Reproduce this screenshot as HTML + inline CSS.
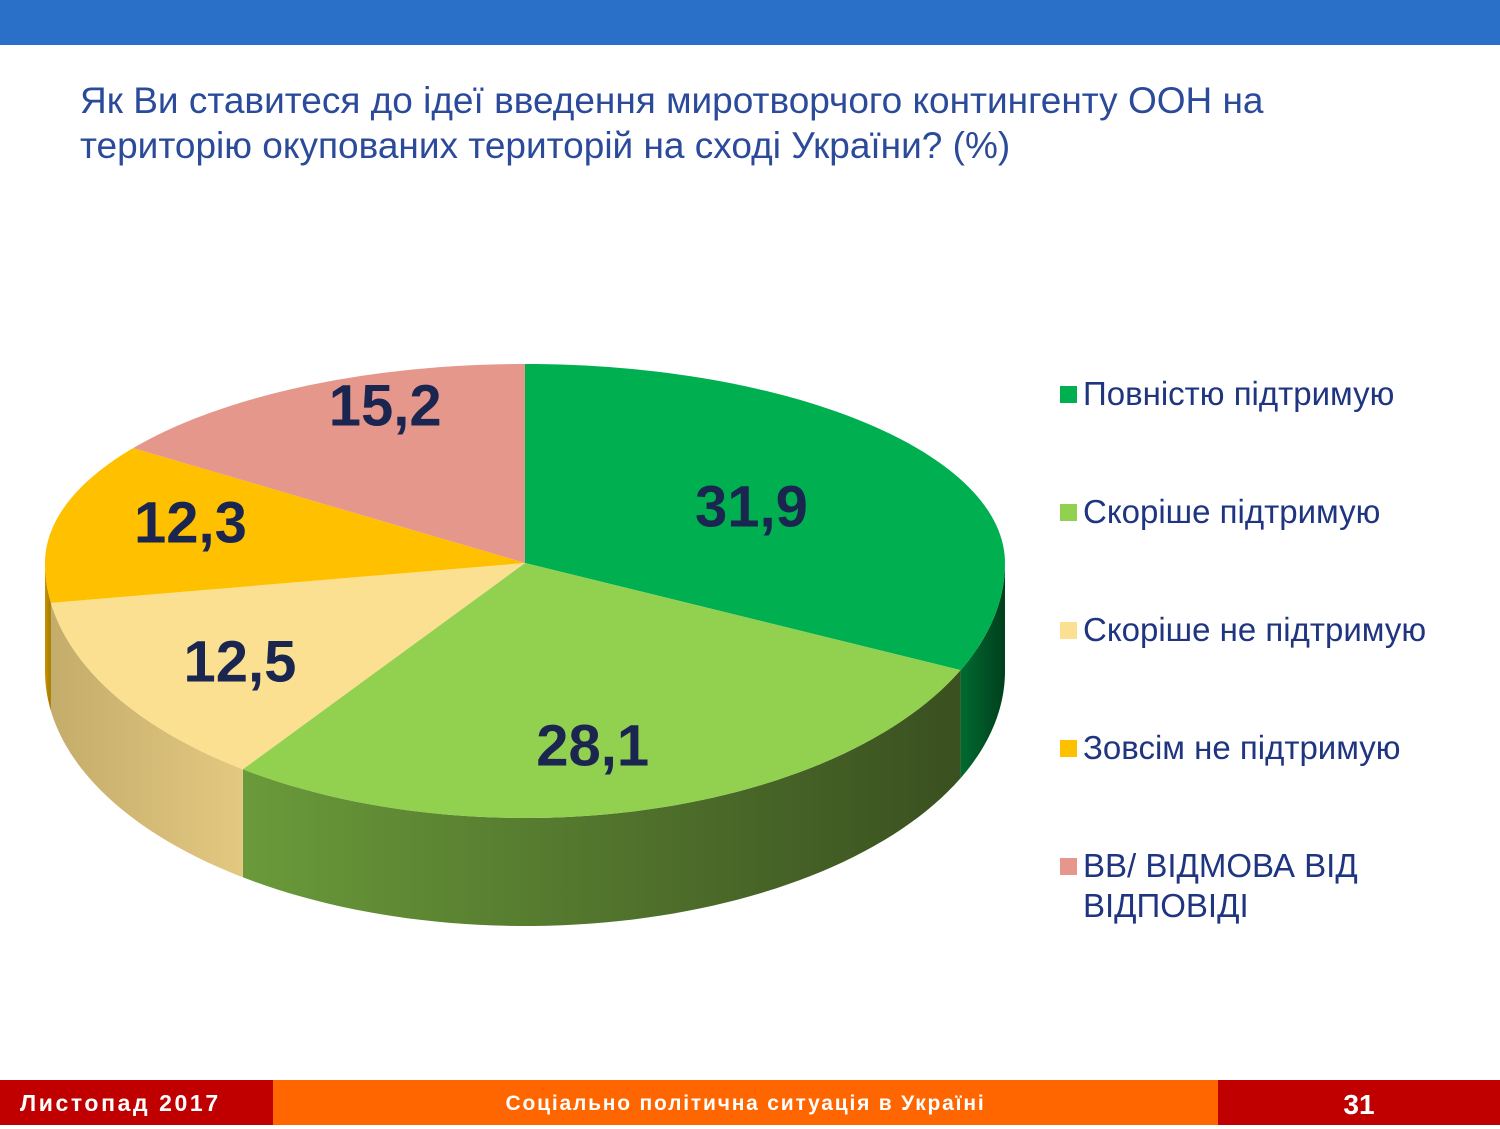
<!DOCTYPE html>
<html><head><meta charset="utf-8"><style>
body{margin:0;width:1500px;height:1125px;position:relative;background:#fff;font-family:"Liberation Sans",sans-serif;overflow:hidden}
.abs{position:absolute}
.leg{position:absolute;left:1060px;font-size:33px;color:#1f3580;line-height:40px}
.leg span{display:inline-block;width:17px;height:17px;margin-right:6px;vertical-align:2px}
</style></head><body>
<div class="abs" style="left:0;top:0;width:1500px;height:45px;background:#2a6fc8"></div>
<div class="abs" style="left:80px;top:78px;font-size:37px;line-height:45px;color:#2b4a9a;white-space:nowrap">Як Ви ставитеся до ідеї введення миротворчого контингенту ООН на<br>територію окупованих територій на сході України? (%)</div>
<svg id="pie" class="abs" style="left:0;top:0" width="1500" height="1080"></svg>
<div class="leg" style="top:374px"><span style="background:#00b050"></span>Повністю підтримую</div>
<div class="leg" style="top:492px"><span style="background:#92d050"></span>Скоріше підтримую</div>
<div class="leg" style="top:610px"><span style="background:#fae090"></span>Скоріше не підтримую</div>
<div class="leg" style="top:728px"><span style="background:#ffc000"></span>Зовсім не підтримую</div>
<div class="leg" style="top:846px"><span style="background:#e6978c"></span>ВВ/ ВІДМОВА ВІД<br><span style="background:none;width:17px"></span>ВІДПОВІДІ</div>
<div class="abs" style="left:0;top:1080px;width:273px;height:45px;background:#c00000"></div>
<div class="abs" style="left:20px;top:1080px;color:#fff;font-weight:bold;font-size:23px;letter-spacing:2.6px;line-height:47px">Листопад 2017</div>
<div class="abs" style="left:273px;top:1080px;width:945px;height:45px;background:#ff6600;color:#fff;font-weight:bold;font-size:21px;letter-spacing:1.8px;line-height:47px;text-align:center">Соціально політична ситуація в Україні</div>
<div class="abs" style="left:1218px;top:1080px;width:282px;height:45px;background:#c00000;color:#fff;font-weight:bold;font-size:28px;line-height:49px;text-align:center">31</div>
<script>
const categories=["Повністю підтримую","Скоріше підтримую","Скоріше не підтримую","Зовсім не підтримую","ВВ/ ВІДМОВА ВІД ВІДПОВІДІ"];
const values=[31.9,28.1,12.5,12.3,15.2];
const labels=["31,9","28,1","12,5","12,3","15,2"];
const colors=["#00b050","#92d050","#fae090","#ffc000","#e6978c"];
const sideColors=[["#006b30","#003f1c"],["#6a9a3a","#3a5020"],["#e3c880","#c4ac6a"],["#c89500","#a07800"],["#b07068","#905850"]];
const svg=document.getElementById('pie');const NS="http://www.w3.org/2000/svg";
const cx=525,cy=563,rx=480,ryT=199,ryB=255,depth=108;
function pt(a,dy){const s=Math.sin(a),c=Math.cos(a);const ry=c>0?ryT:ryB;return [cx+rx*s,cy-ry*c+(dy||0)];}
const total=values.reduce((a,b)=>a+b,0);
let defs=document.createElementNS(NS,'defs');svg.appendChild(defs);
let start=0;const slices=[];
values.forEach((v,i)=>{const a0=start/total*2*Math.PI,a1=(start+v)/total*2*Math.PI;slices.push([a0,a1]);start+=v;});
slices.forEach(([a0,a1],i)=>{
  const s0=Math.max(a0,Math.PI/2),s1=Math.min(a1,3*Math.PI/2);
  if(s1<=s0)return;
  const g=document.createElementNS(NS,'linearGradient');g.id='g'+i;
  g.innerHTML=`<stop offset="0" stop-color="${sideColors[i][0]}"/><stop offset="1" stop-color="${sideColors[i][1]}"/>`;
  if(i===2){g.setAttribute('x1','1');g.setAttribute('x2','0');}
  defs.appendChild(g);
  let d='';const n=60;
  for(let k=0;k<=n;k++){const p=pt(s0+(s1-s0)*k/n);d+=(k?'L':'M')+p[0]+' '+p[1];}
  for(let k=n;k>=0;k--){const p=pt(s0+(s1-s0)*k/n,depth);d+='L'+p[0]+' '+p[1];}
  const e=document.createElementNS(NS,'path');e.setAttribute('d',d+'Z');e.setAttribute('fill','url(#g'+i+')');
  
  
  svg.appendChild(e);
});
slices.forEach(([a0,a1],i)=>{
  let d='M'+cx+' '+cy;const n=80;
  for(let k=0;k<=n;k++){const p=pt(a0+(a1-a0)*k/n);d+='L'+p[0]+' '+p[1];}
  const e=document.createElementNS(NS,'path');e.setAttribute('d',d+'Z');e.setAttribute('fill',colors[i]);
  
  
  svg.appendChild(e);
});
slices.forEach(([a0,a1],i)=>{
  const m=(a0+a1)/2;const s=Math.sin(m),c=Math.cos(m);const ry=c>0?ryT:ryB;
  const fx=0.56+0.16*Math.max(0,-s);
  const fy=c>0?(0.89-0.43*Math.max(0,s)):0.74;
  const t=document.createElementNS(NS,'text');
  t.setAttribute('x',cx+rx*fx*s);t.setAttribute('y',cy-ry*fy*c+20);
  t.setAttribute('text-anchor','middle');t.setAttribute('font-size','58');t.setAttribute('font-weight','bold');
  t.setAttribute('font-family','Liberation Sans, sans-serif');t.setAttribute('fill','#1a2550');
  t.textContent=labels[i];
  
  
  svg.appendChild(t);
});
</script>
</body></html>
